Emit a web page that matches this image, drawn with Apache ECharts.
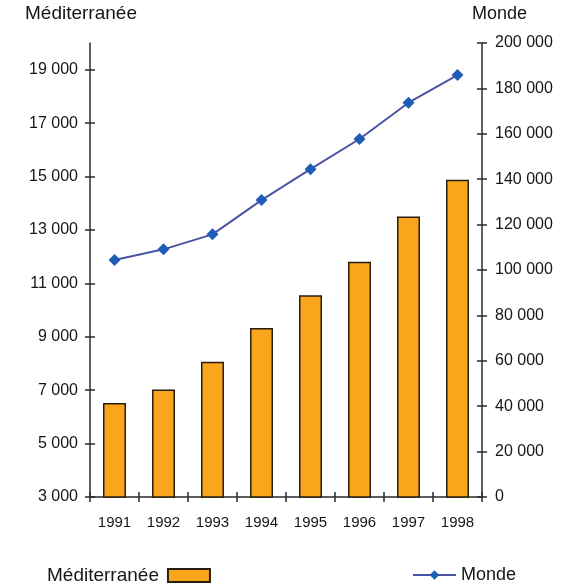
<!DOCTYPE html>
<html><head><meta charset="utf-8">
<script src="https://cdn.jsdelivr.net/npm/echarts@6/dist/echarts.min.js"></script>
<style>html,body{margin:0;padding:0;background:#fff}#c{width:570px;height:586px}</style>
</head><body><div id="c"></div>
<script>
const categories = ['1991','1992','1993','1994','1995','1996','1997','1998'];
const mediterranee = [6520, 7030, 8060, 9330, 10550, 11810, 13500, 14880];
const monde = [104400, 109100, 115700, 130800, 144400, 157700, 173700, 185900];
const leftTicks = [3000, 5000, 7000, 9000, 11000, 13000, 15000, 17000, 19000];
const rightTicks = [0, 20000, 40000, 60000, 80000, 100000, 120000, 140000, 160000, 180000, 200000];

const fmt = v => String(v).replace(/\B(?=(\d{3})+(?!\d))/g, ' ');
const font = 'Liberation Sans, Arial, sans-serif';
const axisCol = '#2a2a2a';
const txtCol = '#161616';

const chart = echarts.init(document.getElementById('c'), null, {renderer: 'canvas'});
const yLeft = (inside, show) => ({
  type: 'value', position: 'left', min: 3000, max: 20000,
  axisLine: {show: show, lineStyle: {color: axisCol, width: 1.5}},
  axisTick: {show: true, inside: inside, length: 5, customValues: leftTicks, lineStyle: {color: axisCol, width: 1.5}},
  axisLabel: {show: show, customValues: leftTicks, formatter: fmt, color: txtCol, fontSize: 16, fontFamily: font, margin: 12},
  splitLine: {show: false}
});
const yRight = (inside, show) => ({
  type: 'value', position: 'right', min: 0, max: 200000,
  axisLine: {show: show, lineStyle: {color: axisCol, width: 1.5}},
  axisTick: {show: true, inside: inside, length: 5, customValues: rightTicks, lineStyle: {color: axisCol, width: 1.5}},
  axisLabel: {show: show, customValues: rightTicks, formatter: fmt, color: txtCol, fontSize: 16, fontFamily: font, margin: 13},
  splitLine: {show: false}
});
const xAx = (inside, show) => ({
  type: 'category', data: categories, position: 'bottom',
  axisLine: {show: show, lineStyle: {color: axisCol, width: 1.5}},
  axisTick: {show: true, inside: inside, length: 5, alignWithLabel: false, lineStyle: {color: axisCol, width: 1.5}},
  axisLabel: {show: show, color: txtCol, fontSize: 15, fontFamily: font, margin: 18}
});

chart.setOption({
  backgroundColor: '#fff',
  animation: false,
  grid: {left: 90, right: 88, top: 43, bottom: 89},
  graphic: [
    {type: 'text', left: 25, top: 4, style: {text: 'Méditerranée', fill: txtCol, font: '19px ' + font}},
    {type: 'text', left: 472, top: 5, style: {text: 'Monde', fill: txtCol, font: '18px ' + font}}
  ],
  legend: [
    {data: ['Méditerranée'], icon: 'rect', left: 42, top: 561, align: 'right', itemWidth: 42, itemHeight: 13, itemGap: 6,
     textStyle: {color: txtCol, fontSize: 19, fontFamily: font, padding: [0, 4, 0, 0]}},
    {data: ['Monde'], left: 407, top: 561, itemWidth: 43, itemHeight: 12,
     textStyle: {color: txtCol, fontSize: 18, fontFamily: font}}
  ],
  xAxis: [xAx(false, true), xAx(true, false)],
  yAxis: [yLeft(false, true), yRight(false, true), yLeft(true, false), yRight(true, false)],
  series: [
    {name: 'Méditerranée', type: 'bar', data: mediterranee, xAxisIndex: 0, yAxisIndex: 0, barWidth: 23,
     itemStyle: {color: '#F9A61C', borderColor: '#2b1d0e', borderWidth: 1.5}},
    {name: 'Monde', type: 'line', data: monde, xAxisIndex: 0, yAxisIndex: 1,
     symbol: 'diamond', symbolSize: 12,
     lineStyle: {color: '#4a54a4', width: 2},
     itemStyle: {color: '#1f5cb5'}}
  ]
});
</script></body></html>
